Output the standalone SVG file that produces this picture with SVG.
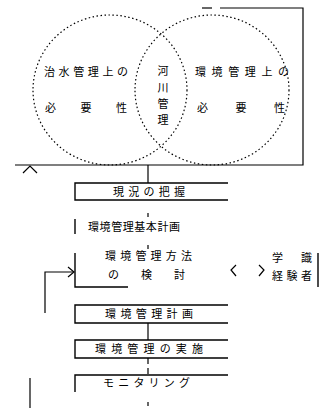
<svg xmlns="http://www.w3.org/2000/svg" width="326" height="415" viewBox="0 0 326 415">
<style>
text{font-family:"Noto Sans CJK JP","Noto Sans CJK SC",sans-serif;font-size:11px;fill:#000}
.c{fill:none;stroke:#000;stroke-width:1.2;stroke-dasharray:1.5 2.5}
.b{fill:none;stroke:#000;stroke-width:1.4}
.l{fill:none;stroke:#000;stroke-width:1.2}
.m{text-anchor:middle}
</style>
<rect width="326" height="415" fill="#fff"/>
<g id="frame">
<path class="l" d="M15,165 H303 V8 H220"/>
<path class="l" d="M202,8 H212"/>
</g>
<g id="circle-left">
<ellipse class="c" cx="110" cy="90" rx="77" ry="75"/>
<text x="44" y="76" textLength="84" lengthAdjust="spacing">治水管理上の</text>
<text x="45" y="112" textLength="82" lengthAdjust="spacing">必要性</text>
</g>
<g id="circle-right">
<ellipse class="c" cx="212" cy="90" rx="77" ry="75"/>
<text x="195" y="76" textLength="94" lengthAdjust="spacing">環境管理上の</text>
<text x="197" y="112" textLength="88" lengthAdjust="spacing">必要性</text>
</g>
<g id="overlap">
<text class="m" x="163" y="75">河</text>
<text class="m" x="163" y="92">川</text>
<text class="m" x="163" y="108">管</text>
<text class="m" x="163" y="124">理</text>
</g>
<g id="n1">
<path class="b" d="M228,183 H75 V200 H228"/>
<text x="113" y="196" textLength="72" lengthAdjust="spacing">現況の把握</text>
</g>
<g id="n2">
<path class="b" d="M75,219 V234"/>
<text x="88" y="231" textLength="92" lengthAdjust="spacing">環境管理基本計画</text>
</g>
<g id="n3">
<path class="b" d="M75,253 V287 H128"/>
<text x="105" y="260" textLength="87" lengthAdjust="spacing">環境管理方法</text>
<text x="108" y="279" textLength="77" lengthAdjust="spacing">の検討</text>
</g>
<g id="n-expert">
<path class="b" d="M318,253 V287"/>
<text x="272" y="262" textLength="40" lengthAdjust="spacing">学識</text>
<text x="272" y="280" textLength="40" lengthAdjust="spacing">経験者</text>
</g>
<g id="n4">
<path class="b" d="M228,305 H75 V323 H228"/>
<text x="105" y="318" textLength="88" lengthAdjust="spacing">環境管理計画</text>
</g>
<g id="n5">
<path class="b" d="M228,340 H75 V358 H228"/>
<text x="95" y="353" textLength="108" lengthAdjust="spacing">環境管理の実施</text>
</g>
<g id="n6">
<path class="b" d="M228,375 H75 V392"/>
<text x="103" y="387" textLength="87" lengthAdjust="spacing">モニタリング</text>
</g>
<g id="connectors">
<path class="l" d="M148,165 V183"/>
<path class="l" d="M148,213 V217"/>
<path class="l" d="M148,245 V249"/>
<path class="l" d="M148,323 V340"/>
<path class="l" d="M148,358 V364 M148,368 V374"/>
<path class="l" d="M148,402 V406"/>
<path class="l" d="M45,313 V272 H73"/>
<path class="l" d="M68,267 L74,272 L68,277"/>
<path class="l" d="M236,265 L231,270 L236,276"/>
<path class="l" d="M259,265 L264,270 L259,276"/>
<path class="l" d="M30,378 V408"/>
<path class="l" d="M23,173 L30,166 L37,173"/>
</g>
</svg>
